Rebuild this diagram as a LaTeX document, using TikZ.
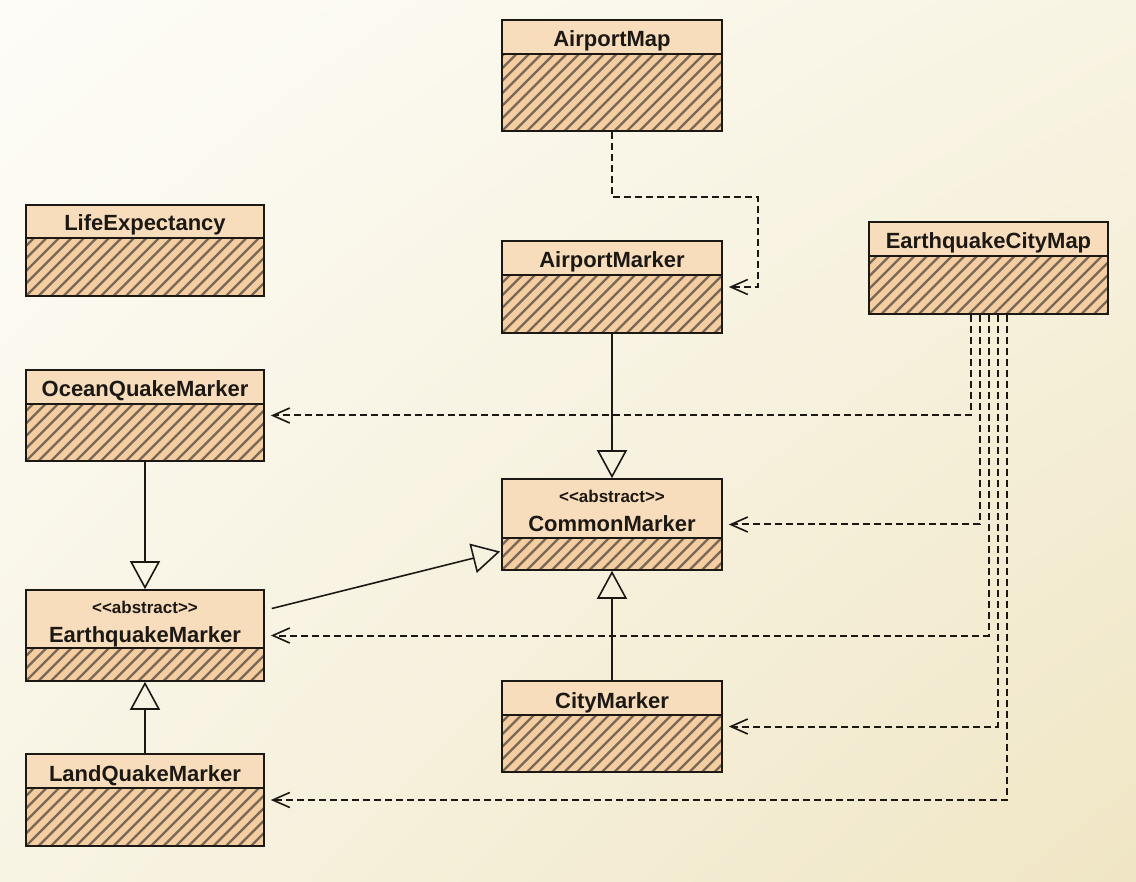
\documentclass[tikz,border=0pt]{standalone}
\usepackage{fontspec}
\usetikzlibrary{arrows.meta,fit,calc,shadings}
\newfontfamily\classfont{Liberation Sans}

\definecolor{bgTL}{RGB}{253,252,247}
\definecolor{bgTR}{RGB}{248,244,227}
\definecolor{bgBL}{RGB}{248,244,228}
\definecolor{bgBR}{RGB}{240,230,197}
\definecolor{headfill}{RGB}{248,221,188}
\definecolor{bodyfill}{RGB}{244,205,160}
\definecolor{hatchcol}{RGB}{120,104,88}
\definecolor{framecol}{RGB}{28,24,20}

\tikzset{
  frame/.style={draw=framecol, line width=1.6pt},
  hatch/.style={draw=hatchcol, line width=2.3pt},
  title/.style={inner sep=0pt, anchor=base, text=framecol,
    font=\classfont\bfseries\fontsize{22}{24}\selectfont},
  stereotype/.style={inner sep=0pt, anchor=base, text=framecol,
    font=\classfont\bfseries\fontsize{17}{19}\selectfont},
  dep/.style={draw=framecol, line width=2pt, dash pattern=on 7pt off 4pt,
    -{Straight Barb[length=17pt,width=15pt,line width=1.6pt]}, shorten >=6pt},
  inherit/.style={draw=framecol, line width=1.6pt,
    -{Triangle[open,length=28pt,width=30pt,line width=1.6pt]}},
}

% class box: name, left, top, right, bottom, divider
\newcommand\umlbox[6]{%
  \fill[headfill] (#2,#3) rectangle (#4,#6);
  \fill[bodyfill] (#2,#6) rectangle (#4,#5);
  \begin{scope}
    \clip (#2,#6) rectangle (#4,#5);
    \foreach \k in {-100,-87.5,...,250}
      \draw[hatch] ({#2+\k},#5) -- ++(100,-100);
  \end{scope}
  \draw[frame] (#2,#6) -- (#4,#6);
  \node[frame, fit={(#2,#3) (#4,#5)}, inner sep=0pt] (#1) {};
}
% plain class: box plus its name
\newcommand\umlclass[7]{%
  \umlbox{#1}{#2}{#3}{#4}{#5}{#6}
  \node[title] (#1-title) at ({(#2+#4)/2},{#6-7}) {#7};
}
% abstract class: box, stereotype and name
\newcommand\umlabstract[7]{%
  \umlbox{#1}{#2}{#3}{#4}{#5}{#6}
  \node[stereotype] (#1-stereo) at ({(#2+#4)/2},{#6-35})
    {<\kern0pt<abstract>\kern0pt>};
  \node[title] (#1-title) at ({(#2+#4)/2},{#6-6}) {#7};
}

\begin{document}
\begin{tikzpicture}[x=1pt,y=-1pt]
\useasboundingbox (0,0) rectangle (1136,882);
\shade[upper left=bgTL, upper right=bgTR, lower left=bgBL, lower right=bgBR]
  (0,0) rectangle (1136,882);

\umlclass{apmap}{502}{20}{722}{131}{54}{AirportMap}
\umlclass{life}{26}{205}{264}{296}{238}{LifeExpectancy}
\umlclass{apmark}{502}{241}{722}{333}{275}{AirportMarker}
\umlclass{ecm}{869}{222}{1108}{314}{256}{EarthquakeCityMap}
\umlclass{ocean}{26}{370}{264}{461}{404}{OceanQuakeMarker}
\umlabstract{common}{502}{479}{722}{570}{538}{CommonMarker}
\umlabstract{eqm}{26}{590}{264}{681}{648}{EarthquakeMarker}
\umlclass{city}{502}{681}{722}{772}{715}{CityMarker}
\umlclass{land}{26}{754}{264}{846}{788}{LandQuakeMarker}

% dependencies
\draw[dep] (apmap.south) -- ++(0,65) -| ([xshift=35pt]apmark.east) -- (apmark.east);
\draw[dep] ([xshift=-18pt]ecm.south) |- (ocean.east);
\draw[dep] ([xshift=-9pt]ecm.south) |- (common.east);
\draw[dep] (ecm.south) |- (eqm.east);
\draw[dep] ([xshift=9pt]ecm.south) |- (city.east);
\draw[dep] ([xshift=18pt]ecm.south) |- (land.east);

% generalisations
\draw[inherit] (apmark.south) -- (common.north);
\draw[inherit] (city.north) -- (common.south);
\draw[inherit] (ocean.south) -- (eqm.north);
\draw[inherit] (land.north) -- (eqm.south);
\draw[inherit] ([shift={(7pt,27pt)}]eqm.east) -- ([shift={(-1pt,-27pt)}]common.west);
\end{tikzpicture}
\end{document}
